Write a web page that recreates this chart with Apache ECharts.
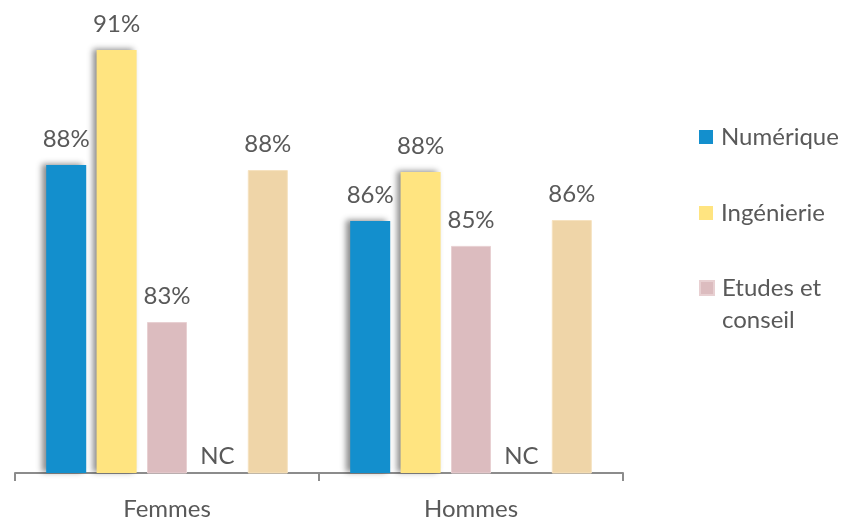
<!DOCTYPE html>
<html>
<head>
<meta charset="utf-8">
<script src="https://cdn.jsdelivr.net/npm/echarts@6/dist/echarts.min.js"></script>
<style>html,body{margin:0;padding:0;background:#fff;}#c{width:843px;height:523px;}</style>
</head>
<body>
<div id="c"></div>
<script>
const categories = ['Femmes', 'Hommes'];
const numerique = [87.76, 86.11];
const ingenierie = [91.14, 87.55];
const etudes = [83.14, 85.38];
const nonCommunique = [null, null];
const autre = [87.61, 86.14];
const legendNames = ['Numérique', 'Ingénierie', 'Etudes et conseil'];
const ncText = 'NC';

const Y_MIN = 78.7, Y_MAX = 91.7;
const FONT = 'Lato';
const TXT = '#595959';

const pctLabel = {
  show: true, position: 'top', distance: 14,
  fontFamily: FONT, fontSize: 24, color: TXT,
  formatter: p => Math.round(p.value) + '%'
};
const shadow = { shadowColor: 'rgba(0,0,0,0.45)', shadowBlur: 6, shadowOffsetX: -4, shadowOffsetY: -1 };
const legendText = { fontFamily: FONT, fontSize: 24, color: TXT, lineHeight: 32, padding: [0, 0, 0, 3] };

const chart = echarts.init(document.getElementById('c'), null, { renderer: 'canvas' });
chart.setOption({
  animation: false,
  backgroundColor: '#fff',
  grid: { left: 15, right: 220, top: 31, bottom: 50 },
  xAxis: {
    type: 'category', data: categories,
    axisLine: { lineStyle: { color: '#8c8c8c', width: 2 } },
    axisTick: { show: true, length: 8, lineStyle: { color: '#8c8c8c', width: 2 } },
    axisLabel: { margin: 24, fontFamily: FONT, fontSize: 24, color: TXT }
  },
  yAxis: { type: 'value', min: Y_MIN, max: Y_MAX, show: false, splitLine: { show: false } },
  legend: [
    {
      orient: 'vertical', left: 699, top: 121, padding: 0,
      itemWidth: 14, itemHeight: 14, itemGap: 44, icon: 'rect',
      textStyle: legendText,
      data: [legendNames[0], legendNames[1]]
    },
    {
      orient: 'vertical', left: 699, top: 240, padding: 0,
      itemWidth: 14, itemHeight: 14, icon: 'rect',
      textStyle: legendText,
      formatter: n => '\n' + n.replace(' conseil', '\nconseil'),
      data: [legendNames[2]]
    }
  ],
  series: [
    { name: legendNames[0], type: 'bar', barWidth: 40, barGap: '26%', data: numerique,
      itemStyle: Object.assign({ color: '#138fcd' }, shadow), label: pctLabel },
    { name: legendNames[1], type: 'bar', barWidth: 40, barGap: '26%', data: ingenierie,
      itemStyle: Object.assign({ color: '#ffe480' }, shadow), label: pctLabel },
    { name: legendNames[2], type: 'bar', barWidth: 40, barGap: '26%', data: etudes,
      itemStyle: { color: '#dcbcbf', borderColor: '#e8d0d2', borderWidth: 1 }, label: pctLabel },
    { name: 'NC', type: 'bar', barWidth: 40, barGap: '26%',
      data: nonCommunique.map(v => v == null ? Y_MIN : v),
      itemStyle: { color: 'rgba(0,0,0,0)' },
      label: { show: true, position: 'top', distance: 5, fontFamily: FONT, fontSize: 24, color: TXT,
               formatter: () => ncText } },
    { name: 'Autre', type: 'bar', barWidth: 40, barGap: '26%', data: autre,
      itemStyle: { color: '#efd5a8', borderColor: '#f6e2bf', borderWidth: 1 }, label: pctLabel }
  ]
});
</script>
</body>
</html>
